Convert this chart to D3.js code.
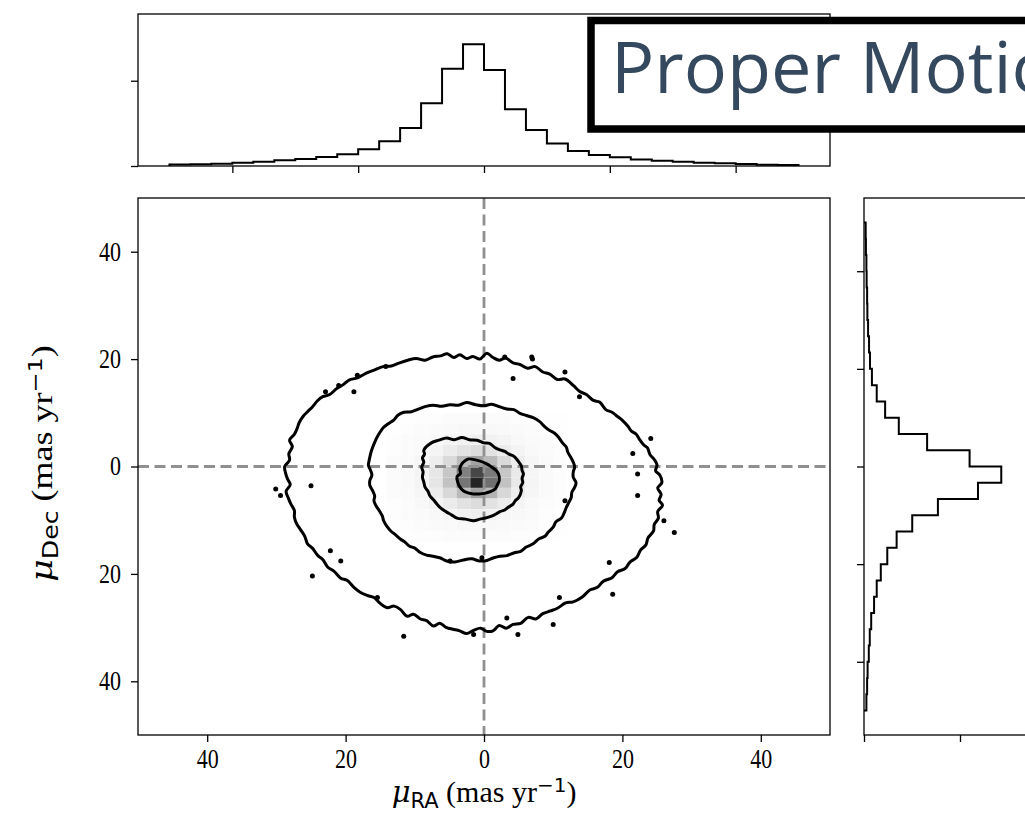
<!DOCTYPE html>
<html><head><meta charset="utf-8">
<script src="https://d3js.org/d3.v7.min.js"></script>
<style>body{margin:0;background:#fff;overflow:hidden}svg{display:block}</style>
</head><body>
<svg id="c" width="1025" height="829"></svg>
<script>
// ---------------- data ----------------
const binEdges = [-50,-46.667,-43.333,-40,-36.667,-33.333,-30,-26.667,-23.333,-20,-16.667,-13.333,-10,-6.667,-3.333,0,3.333,6.667,10,13.333,16.667,20,23.333,26.667,30,33.333,36.667,40,43.333,46.667,50];
// density per bin (mu_RA), ascending
const raHist = [0.0007,0.0008,0.0011,0.0015,0.0020,0.0027,0.0033,0.0042,0.0055,0.0078,0.0116,0.0178,0.0294,0.0456,0.0571,0.0450,0.0266,0.0169,0.0106,0.0070,0.0052,0.0041,0.0031,0.0025,0.0020,0.0015,0.0013,0.0009,0.0006,0.0005];
// density per bin (mu_Dec), ascending
const decHist = [0.0010,0.0013,0.0015,0.0020,0.0024,0.0030,0.0042,0.0053,0.0070,0.0097,0.0136,0.0201,0.0308,0.0475,0.0572,0.0440,0.0263,0.0145,0.0088,0.0053,0.0033,0.0025,0.0021,0.0017,0.0014,0.0013,0.0011,0.0010,0.0008,0.0007];

const mainTicks = [-40,-20,0,20,40];
const mainTickLabels = ["40","20","0","20","40"];
const histDensityTicks = [0, 0.04];

// 2D density grid (2 mas/yr cells), greyscale level 0..1
const gridX = [-13,-11,-9,-7,-5,-3,-1,1,3,5,7,9,11];
const gridY = [9,7,5,3,1,-1,-3,-5,-7,-9,-11,-13];
const gridVals = [
 [0.01,0.01,0.02,0.02,0.03,0.03,0.03,0.03,0.03,0.02,0.02,0.01,0.01],
 [0.01,0.02,0.03,0.04,0.05,0.06,0.06,0.06,0.05,0.04,0.03,0.02,0.01],
 [0.02,0.03,0.04,0.06,0.09,0.11,0.12,0.11,0.09,0.06,0.04,0.03,0.02],
 [0.02,0.03,0.05,0.09,0.15,0.20,0.23,0.20,0.15,0.09,0.05,0.03,0.02],
 [0.03,0.04,0.07,0.13,0.24,0.38,0.46,0.38,0.24,0.13,0.07,0.04,0.02],
 [0.03,0.05,0.09,0.17,0.33,0.58,0.78,0.60,0.33,0.16,0.08,0.04,0.02],
 [0.03,0.05,0.09,0.18,0.35,0.62,0.88,0.64,0.35,0.16,0.08,0.04,0.02],
 [0.03,0.04,0.07,0.14,0.25,0.38,0.47,0.40,0.25,0.13,0.07,0.04,0.02],
 [0.02,0.03,0.06,0.10,0.15,0.20,0.23,0.20,0.15,0.09,0.05,0.03,0.02],
 [0.02,0.03,0.04,0.06,0.09,0.11,0.12,0.11,0.08,0.06,0.04,0.02,0.01],
 [0.01,0.02,0.03,0.04,0.05,0.06,0.06,0.06,0.05,0.04,0.03,0.02,0.01],
 [0.01,0.01,0.02,0.02,0.03,0.03,0.03,0.03,0.03,0.02,0.02,0.01,0.01]
];

// contour levels (mas/yr)
const contourInner = [[-2.3,1.4],[-0.8,1.1],[0.4,0.5],[1.1,-0.1],[1.8,-0.8],[2.1,-1.4],[2.2,-2.6],[1.9,-3.5],[1.6,-4.2],[0.9,-4.7],[0.1,-5.0],[-0.7,-5.1],[-1.5,-5.1],[-2.3,-4.9],[-3.0,-4.5],[-3.5,-3.8],[-3.8,-2.9],[-3.9,-1.9],[-3.4,-1.3],[-3.5,-0.4],[-3.2,0.5],[-2.8,1.0]];
const contourMid = [[-8.7,3.0],[-7.6,4.4],[-6.5,4.9],[-5.4,5.3],[-4.3,5.0],[-3.2,5.4],[-2.1,5.0],[-1.0,4.9],[0.0,4.4],[0.8,4.3],[1.6,3.5],[2.3,3.1],[3.0,2.8],[3.6,2.3],[4.2,2.0],[4.7,1.4],[5.1,0.7],[5.4,0.1],[5.5,-0.7],[5.7,-1.4],[5.5,-2.2],[5.6,-3.0],[5.3,-3.8],[5.4,-4.5],[5.0,-5.8],[4.5,-6.4],[4.2,-7.0],[3.5,-7.6],[3.0,-8.1],[2.3,-8.4],[1.8,-8.8],[1.0,-9.3],[0.2,-9.6],[-0.6,-9.8],[-1.5,-10.1],[-2.7,-9.8],[-3.9,-9.6],[-4.7,-9.0],[-5.5,-8.4],[-6.2,-7.8],[-6.8,-7.0],[-7.3,-6.2],[-7.8,-5.5],[-8.1,-4.6],[-8.5,-3.9],[-8.7,-2.9],[-8.9,-2.0],[-8.8,-1.0],[-9.0,-0.1],[-8.7,0.8],[-8.9,1.6],[-8.6,2.3]];
const contourWide = [[-16.6,1.1],[-16.3,2.8],[-15.8,4.5],[-15.3,5.8],[-14.5,7.3],[-13.9,7.9],[-13.0,8.7],[-12.4,9.6],[-11.6,10.1],[-10.5,10.2],[-9.5,10.7],[-8.4,11.2],[-7.3,11.4],[-6.1,11.2],[-4.9,11.5],[-3.7,11.4],[-2.5,11.9],[-1.2,11.5],[0,11.3],[1.1,11.6],[2.3,11.1],[3.3,10.7],[4.3,10.6],[5.2,9.9],[6.1,9.5],[7.1,9.1],[8.0,8.4],[8.8,7.4],[9.5,6.7],[10.2,6.2],[10.8,5.4],[11.4,4.3],[11.9,3.6],[12.1,2.7],[12.5,1.8],[12.9,0.8],[13.1,-0.1],[12.9,-1.0],[12.9,-2.0],[13.3,-3.0],[13.1,-3.9],[12.7,-4.8],[12.6,-5.8],[12.3,-6.6],[11.9,-7.6],[11.6,-8.6],[11.2,-9.6],[10.4,-10.3],[10.0,-11.3],[9.3,-12.2],[8.8,-13.0],[7.9,-13.5],[7.1,-14.4],[6.1,-15.0],[5.3,-15.8],[4.3,-16.1],[3.3,-16.6],[2.3,-16.7],[1.4,-17.0],[0.4,-17.5],[-0.6,-17.6],[-1.8,-17.2],[-3.0,-17.4],[-4.2,-17.8],[-5.4,-17.6],[-6.4,-17.0],[-7.4,-16.7],[-8.3,-16.5],[-9.2,-16.0],[-10.0,-15.2],[-10.8,-14.8],[-11.5,-14.0],[-12.1,-13.5],[-12.9,-12.6],[-13.4,-12.1],[-14.1,-11.0],[-14.5,-10.1],[-14.7,-9.2],[-15.1,-8.3],[-15.6,-7.3],[-15.9,-6.4],[-15.8,-5.5],[-16.1,-4.5],[-16.5,-3.5],[-16.5,-2.6],[-16.2,-1.6],[-16.4,-0.7],[-16.7,0.2]];
const contourOuter = [[-6.3,20.6],[-5.3,21.0],[-4.4,20.3],[-3.5,20.8],[-2.5,20.1],[-1.6,20.5],[-0.6,20.0],[0.4,21.1],[1.3,20.3],[2.2,19.8],[3.1,20.2],[4.2,19.3],[5.2,19.0],[6.3,18.3],[7.4,18.6],[8.5,17.6],[9.5,17.2],[10.6,16.2],[11.7,16.3],[12.9,15.1],[13.8,14.0],[14.8,13.4],[15.8,12.3],[16.7,12.0],[17.6,10.6],[18.5,10.1],[19.3,9.3],[20.0,8.6],[20.8,7.5],[21.3,6.6],[22.0,6.0],[22.4,5.2],[23.1,4.0],[23.6,3.5],[24.0,2.2],[24.6,1.3],[25.0,0.3],[24.8,-0.8],[25.4,-1.6],[25.7,-3.0],[25.1,-4.0],[25.6,-5.2],[25.3,-6.3],[25.8,-7.2],[25.1,-8.4],[25.2,-9.6],[24.6,-10.8],[24.5,-12.0],[23.7,-13.3],[23.4,-14.6],[22.6,-15.6],[22.1,-16.9],[21.1,-17.8],[20.4,-19.0],[19.3,-19.6],[18.5,-20.7],[17.2,-21.4],[16.4,-22.5],[15.3,-23.0],[14.2,-24.3],[12.9,-25.2],[11.8,-25.4],[10.6,-26.4],[9.6,-26.9],[8.5,-27.4],[7.5,-28.4],[6.4,-28.1],[5.3,-29.2],[4.2,-29.4],[3.2,-30.1],[2.2,-29.6],[1.3,-30.6],[0.4,-30.7],[-0.5,-30.1],[-1.5,-30.5],[-2.5,-31.1],[-3.5,-30.6],[-4.5,-30.3],[-5.4,-30.0],[-6.4,-29.2],[-7.3,-29.7],[-8.3,-28.7],[-9.2,-28.4],[-10.2,-27.5],[-11.1,-27.9],[-12.1,-26.6],[-13.0,-26.0],[-14.0,-26.3],[-15.0,-25.5],[-15.9,-24.4],[-16.9,-24.0],[-17.9,-23.4],[-18.8,-22.5],[-19.8,-21.2],[-20.7,-20.8],[-21.7,-19.5],[-22.6,-18.7],[-23.3,-17.3],[-24.0,-16.6],[-24.8,-15.2],[-25.5,-14.4],[-25.9,-13.0],[-26.5,-11.8],[-27.1,-10.6],[-27.4,-9.4],[-27.4,-8.2],[-27.9,-7.0],[-28.3,-5.8],[-28.6,-4.6],[-28.0,-3.4],[-28.4,-2.3],[-28.7,-1.1],[-28.8,0.0],[-28.1,1.2],[-28.2,2.4],[-27.7,3.7],[-28.1,4.9],[-27.4,6.0],[-27.0,7.1],[-26.7,8.2],[-26.1,9.4],[-25.5,10.2],[-24.8,11.1],[-24.1,12.2],[-23.3,13.0],[-22.3,13.4],[-21.3,14.5],[-20.4,15.2],[-19.5,16.1],[-18.3,16.5],[-17.0,17.4],[-15.8,18.0],[-14.6,18.6],[-13.4,18.7],[-12.2,19.3],[-11.0,19.8],[-9.8,20.1],[-8.5,19.8],[-7.4,20.4]];
// isolated small contour islands
const islands = [[3,20.4],[6.9,20.4],[4.2,16.4],[13.8,13],[11.7,17.6],[24.1,5.2],[21.5,2.4],[22.2,-1.4],[22.2,-5.4],[26,-10.1],[27.5,-12.3],[11.7,-6.4],[10.9,-24.4],[10,-29.4],[4.9,-31.3],[3.3,-28.2],[-1.5,-31.3],[-11.6,-31.6],[-15.4,-24.4],[-20.7,-17.6],[-22.2,-15.7],[-24.8,-20.4],[-25,-3.6],[-30.1,-4.2],[-29.4,-5.4],[-18.8,13.9],[-21,15.1],[-22.9,13.9],[-18.3,17],[-14.2,18.6],[-0.3,-17],[-4.9,-17.6],[18.1,-17.9],[18.6,-23.8],[7.0,20.0]];

const titleText = "Proper Motion";

// ---------------- layout ----------------
const svg = d3.select("#c");
const M = {l:138, r:830, t:198, b:735};
const T = {l:138, r:830, t:14, b:166};
const R = {l:864, r:1035.1, t:198, b:735};

const sx = d3.scaleLinear().domain([-50,50]).range([M.l,M.r]);
const sy = d3.scaleLinear().domain([-50,50]).range([M.b,M.t]);
const tx = d3.scaleLinear().domain([-55,55]).range([T.l,T.r]);
const ty = d3.scaleLinear().domain([0,0.0713]).range([T.b,T.t]);
const rx = d3.scaleLinear().domain([0,0.0713]).range([R.l,R.r]);
const ry = d3.scaleLinear().domain([-55,55]).range([R.b,R.t]);

const serif = "'Liberation Serif','Times New Roman',serif";
const STRETCH = 1.2;

// ---- main panel ----
svg.append("clipPath").attr("id","mclip").append("rect")
  .attr("x",M.l).attr("y",M.t).attr("width",M.r-M.l).attr("height",M.b-M.t);
const mg = svg.append("g").attr("clip-path","url(#mclip)");

gridVals.forEach((row,i)=>{
  row.forEach((v,j)=>{
    const x0=sx(gridX[j]-1), x1=sx(gridX[j]+1);
    const y0=sy(gridY[i]+1), y1=sy(gridY[i]-1);
    mg.append("rect").attr("x",x0).attr("y",y0).attr("width",x1-x0).attr("height",y1-y0)
      .attr("fill",d3.interpolateGreys(v)).attr("stroke","#fff").attr("stroke-opacity",0.25).attr("stroke-width",0.6);
  });
});

mg.append("line").attr("x1",sx(0)).attr("x2",sx(0)).attr("y1",M.t).attr("y2",M.b)
  .attr("stroke","#909090").attr("stroke-width",2.8).attr("stroke-dasharray","11,5.5");
mg.append("line").attr("x1",M.l).attr("x2",M.r).attr("y1",sy(0)).attr("y2",sy(0))
  .attr("stroke","#909090").attr("stroke-width",2.8).attr("stroke-dasharray","11,5.5");

const cline = d3.line().x(d=>sx(d[0])).y(d=>sy(d[1])).curve(d3.curveCatmullRomClosed.alpha(0.5));
[contourOuter, contourWide, contourMid, contourInner].forEach(c=>{
  mg.append("path").attr("d",cline(c)).attr("fill","none").attr("stroke","#000")
    .attr("stroke-width",3).attr("stroke-linejoin","round");
});
mg.selectAll("circle.isl").data(islands).enter().append("circle")
  .attr("cx",d=>sx(d[0])).attr("cy",d=>sy(d[1])).attr("r",2.5).attr("fill","#000");

svg.append("rect").attr("x",M.l).attr("y",M.t).attr("width",M.r-M.l).attr("height",M.b-M.t)
  .attr("fill","none").attr("stroke","#000").attr("stroke-width",1.3);

const xAx = svg.append("g").attr("transform",`translate(0,${M.b})`)
  .call(d3.axisBottom(sx).tickValues(mainTicks).tickSize(7).tickPadding(5)
    .tickFormat((d,i)=>mainTickLabels[i]));
const yAx = svg.append("g").attr("transform",`translate(${M.l},0)`)
  .call(d3.axisLeft(sy).tickValues(mainTicks).tickSize(7).tickPadding(10)
    .tickFormat((d,i)=>mainTickLabels[i]));
[xAx,yAx].forEach(a=>{
  a.select(".domain").remove();
  a.selectAll(".tick line").attr("stroke","#000").attr("stroke-width",1.3);
  a.selectAll(".tick text").attr("font-family",serif).attr("font-size",22).attr("fill","#000")
    .attr("transform",`scale(1,${STRETCH})`);
});

function axisLabel(g, sub){
  const t = g.append("text").attr("text-anchor","middle").attr("fill","#000");
  t.append("tspan").attr("font-family","'DejaVu Serif',serif").attr("font-style","italic").attr("font-size",29).text("μ");
  t.append("tspan").attr("font-family","'DejaVu Sans',sans-serif").attr("font-size",21).attr("dy",6).text(sub);
  t.append("tspan").attr("font-family",serif).attr("font-size",30).attr("dy",-6).text(" (mas yr");
  t.append("tspan").attr("font-family","'DejaVu Sans',sans-serif").attr("font-size",20).attr("dy",-10).text("−1");
  t.append("tspan").attr("font-family",serif).attr("font-size",30).attr("dy",10).text(")");
  return t;
}
axisLabel(svg.append("g").attr("transform",`translate(${sx(0)},802)`),"RA");
axisLabel(svg.append("g").attr("transform",`translate(52,${sy(0)-3}) rotate(-90) scale(1.2,1)`),"Dec");

function stepPts(vals){
  const p=[[binEdges[0],0]];
  vals.forEach((v,i)=>{p.push([binEdges[i],v]);p.push([binEdges[i+1],v]);});
  p.push([binEdges[binEdges.length-1],0]);
  return p;
}
svg.append("path").attr("d", d3.line().x(d=>tx(d[0])).y(d=>ty(d[1]))(stepPts(raHist)))
  .attr("fill","none").attr("stroke","#000").attr("stroke-width",2);
svg.append("rect").attr("x",T.l).attr("y",T.t).attr("width",T.r-T.l).attr("height",T.b-T.t)
  .attr("fill","none").attr("stroke","#000").attr("stroke-width",1.3);
const tB = svg.append("g").attr("transform",`translate(0,${T.b})`)
  .call(d3.axisBottom(tx).tickValues(mainTicks).tickSize(7).tickFormat(""));
const tL = svg.append("g").attr("transform",`translate(${T.l},0)`)
  .call(d3.axisLeft(ty).tickValues(histDensityTicks).tickSize(7).tickFormat(""));

svg.append("path").attr("d", d3.line().x(d=>rx(d[1])).y(d=>ry(d[0]))(stepPts(decHist)))
  .attr("fill","none").attr("stroke","#000").attr("stroke-width",2);
svg.append("rect").attr("x",R.l).attr("y",R.t).attr("width",R.r-R.l).attr("height",R.b-R.t)
  .attr("fill","none").attr("stroke","#000").attr("stroke-width",1.3);
const rL = svg.append("g").attr("transform",`translate(${R.l},0)`)
  .call(d3.axisLeft(ry).tickValues(mainTicks).tickSize(7).tickFormat(""));
const rB = svg.append("g").attr("transform",`translate(0,${R.b})`)
  .call(d3.axisBottom(rx).tickValues(histDensityTicks).tickSize(7).tickFormat(""));
[tB,tL,rL,rB].forEach(a=>{
  a.select(".domain").remove();
  a.selectAll(".tick line").attr("stroke","#000").attr("stroke-width",1.3);
});

svg.append("rect").attr("x",591).attr("y",20.5).attr("width",640).attr("height",108.5)
  .attr("fill","#fff").attr("stroke","#000").attr("stroke-width",7.5);
svg.append("text").attr("x",611).attr("y",93).attr("font-family","'Open Sans',sans-serif")
  .attr("font-size",72).attr("fill","#34495e").text(titleText);
</script>
</body></html>
